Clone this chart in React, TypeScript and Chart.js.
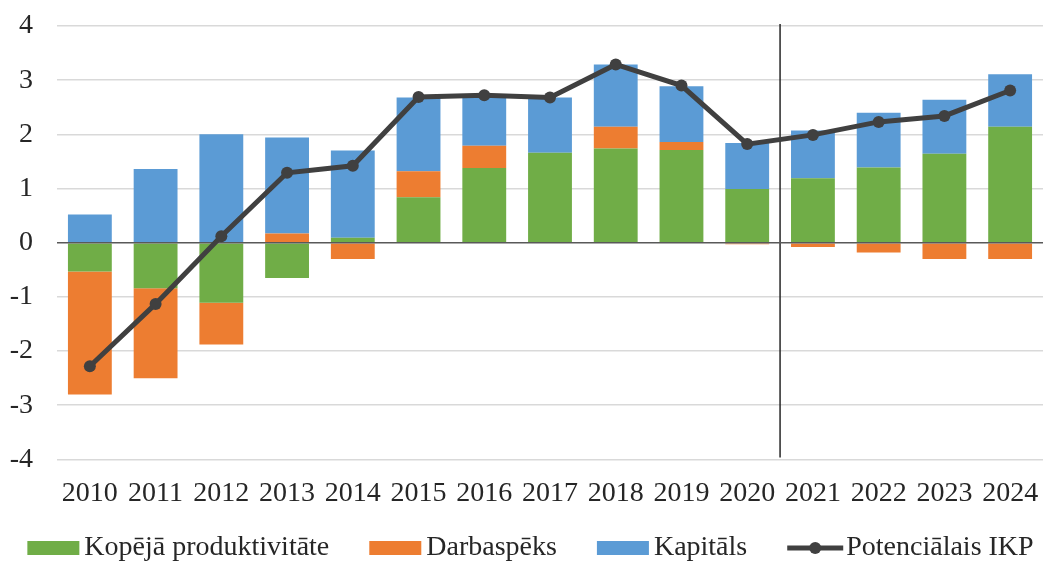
import React, { useEffect, useRef } from 'react';
import { Chart, registerables } from 'chart.js';

Chart.register(...registerables);

const years = ['2010', '2011', '2012', '2013', '2014', '2015', '2016', '2017', '2018', '2019', '2020', '2021', '2022', '2023', '2024'];
const productivity = [-0.53, -0.84, -1.11, -0.65, 0.09, 0.84, 1.38, 1.66, 1.74, 1.71, 0.99, 1.19, 1.39, 1.64, 2.14];
const labour = [-2.27, -1.66, -0.77, 0.17, -0.30, 0.48, 0.41, 0.0, 0.40, 0.15, -0.03, -0.08, -0.18, -0.30, -0.30];
const capital = [0.52, 1.36, 2.0, 1.77, 1.61, 1.36, 0.89, 1.02, 1.15, 1.03, 0.85, 0.88, 1.01, 1.0, 0.97];
const potentialGdp = [-2.28, -1.13, 0.12, 1.29, 1.42, 2.69, 2.72, 2.68, 3.29, 2.9, 1.82, 1.99, 2.23, 2.34, 2.81];
const seriesNames = ['Kopējā produktivitāte', 'Darbaspēks', 'Kapitāls', 'Potenciālais IKP'];
const yMin = -4;
const yMax = 4;
const yStep = 1;
const dividerAfterIndex = 10;

const FONT_FAMILY = '"Liberation Serif", "Times New Roman", serif';
const FONT_SIZE = 28;
const TEXT_COLOR = '#262626';
const GREEN = '#70ad47';
const ORANGE = '#ed7d31';
const BLUE = '#5b9bd5';
const LINE = '#404040';

const referenceLinesPlugin = {
  id: 'referenceLines',
  beforeDatasetsDraw(chart: any) {
    const { ctx, chartArea, scales } = chart;
    const x = (scales.x.getPixelForValue(dividerAfterIndex) + scales.x.getPixelForValue(dividerAfterIndex + 1)) / 2;
    ctx.save();
    ctx.strokeStyle = '#262626';
    ctx.lineWidth = 1.5;
    ctx.beginPath();
    ctx.moveTo(x, chartArea.top - 2);
    ctx.lineTo(x, chartArea.bottom - 2);
    ctx.stroke();
    ctx.restore();
  },
  beforeDatasetDraw(chart: any, args: any) {
    if (args.index !== 3) return;
    const { ctx, chartArea, scales } = chart;
    const y = scales.y.getPixelForValue(0);
    ctx.save();
    ctx.strokeStyle = '#595959';
    ctx.lineWidth = 1.5;
    ctx.beginPath();
    ctx.moveTo(chartArea.left, y);
    ctx.lineTo(chartArea.right, y);
    ctx.stroke();
    ctx.restore();
  },
};

const legendPlugin = {
  id: 'customLegend',
  afterDraw(chart: any) {
    const { ctx } = chart;
    ctx.save();
    ctx.font = `${FONT_SIZE}px ${FONT_FAMILY}`;
    ctx.textBaseline = 'middle';
    ctx.textAlign = 'left';
    const ds = chart.data.datasets;
    const items = ds.map((d: any) => {
      const isLine = d.type === 'line';
      const iconW = isLine ? 56 : 52;
      const gap = isLine ? 3 : 5;
      const tw = ctx.measureText(d.label).width;
      return { isLine, iconW, gap, tw, color: isLine ? d.borderColor : d.backgroundColor, text: d.label };
    });
    const spacing = 40;
    const total = items.reduce((s: number, it: any) => s + it.iconW + it.gap + it.tw, 0) + spacing * (items.length - 1);
    let x = (chart.width - total) / 2 + 6;
    const y = chart.height - 15;
    items.forEach((it: any) => {
      if (it.isLine) {
        ctx.strokeStyle = it.color;
        ctx.lineWidth = 5;
        ctx.beginPath();
        ctx.moveTo(x, y);
        ctx.lineTo(x + it.iconW, y);
        ctx.stroke();
        ctx.fillStyle = it.color;
        ctx.beginPath();
        ctx.arc(x + it.iconW / 2, y, 6, 0, Math.PI * 2);
        ctx.fill();
      } else {
        ctx.fillStyle = it.color;
        ctx.fillRect(x, y - 7, it.iconW, 14);
      }
      x += it.iconW + it.gap;
      ctx.fillStyle = TEXT_COLOR;
      ctx.fillText(it.text, x, y);
      x += it.tw + spacing;
    });
    ctx.restore();
  },
};

export default function App() {
  const canvasRef = useRef<HTMLCanvasElement | null>(null);

  useEffect(() => {
    if (!canvasRef.current) return;
    const font = { family: FONT_FAMILY, size: FONT_SIZE };
    const chart = new Chart(canvasRef.current, {
      type: 'bar',
      data: {
        labels: years,
        datasets: [
          { type: 'bar', label: seriesNames[0], data: productivity, backgroundColor: GREEN, borderWidth: 0, stack: 'bars', order: 1 },
          { type: 'bar', label: seriesNames[1], data: labour, backgroundColor: ORANGE, borderWidth: 0, stack: 'bars', order: 1 },
          { type: 'bar', label: seriesNames[2], data: capital, backgroundColor: BLUE, borderWidth: 0, stack: 'bars', order: 1 },
          {
            type: 'line',
            label: seriesNames[3],
            data: potentialGdp,
            borderColor: LINE,
            backgroundColor: LINE,
            borderWidth: 5,
            pointRadius: 6,
            pointBackgroundColor: LINE,
            pointBorderWidth: 0,
            tension: 0,
            stack: 'line',
            order: 0,
          },
        ],
      } as any,
      options: {
        animation: false,
        responsive: true,
        maintainAspectRatio: false,
        layout: { padding: { left: 10, right: 3, top: 26, bottom: 44 } },
        datasets: { bar: { categoryPercentage: 1, barPercentage: 0.667 } } as any,
        scales: {
          x: {
            stacked: true,
            grid: { display: false },
            border: { display: false },
            ticks: { font, color: TEXT_COLOR, padding: 9, maxRotation: 0, autoSkip: false },
          },
          y: {
            stacked: true,
            min: yMin,
            max: yMax,
            afterFit: (s: any) => {
              s.width = 47;
              s.paddingTop = 0;
              s.paddingBottom = 0;
            },
            grid: {
              color: (c: any) => (c.tick && c.tick.value === 0 ? 'rgba(0,0,0,0)' : '#d9d9d9'),
              lineWidth: 1.5,
              drawTicks: false,
            },
            border: { display: false },
            ticks: { stepSize: yStep, font, color: TEXT_COLOR, padding: 24 },
          },
        },
        plugins: {
          legend: { display: false },
          tooltip: { enabled: false },
        },
      },
      plugins: [referenceLinesPlugin, legendPlugin],
    });
    return () => chart.destroy();
  }, []);

  return (
    <div style={{ position: 'fixed', left: 0, top: 0, width: 1049, height: 563, background: '#fff' }}>
      <canvas ref={canvasRef} />
    </div>
  );
}
